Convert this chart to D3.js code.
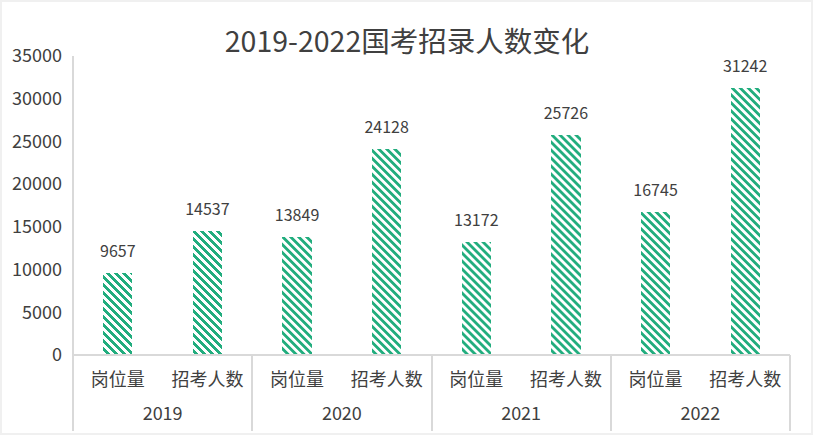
<!DOCTYPE html>
<html>
<head>
<meta charset="utf-8">
<script src="https://cdn.jsdelivr.net/npm/d3@7"></script>
<style>
  html, body { margin: 0; padding: 0; background: #f0f0f0; }
  svg { display: block; }
  text { font-family: "Noto Sans CJK SC", "Noto Sans", sans-serif; fill: #404040; }
</style>
</head>
<body>
<div id="chart"></div>
<script>
const years = ['2019', '2020', '2021', '2022'];
const categories = ['岗位量', '招考人数'];
const posts = [9657, 13849, 13172, 16745];
const applicants = [14537, 24128, 25726, 31242];
const yTicks = [0, 5000, 10000, 15000, 20000, 25000, 30000, 35000];

const width = 813;
const height = 435;
const plotLeft = 73, plotRight = 790, plotTop = 56, base = 355, plotBottom = 431;
const green = '#22ad7e';

const rows = years.map((y, i) => ({ year: y, values: [posts[i], applicants[i]] }));

const svg = d3.select('#chart')
  .append('svg')
  .attr('width', width)
  .attr('height', height)

svg.append('rect')
  .attr('x', 2).attr('y', 2)
  .attr('width', 809).attr('height', 431)
  .attr('fill', '#fff')

// wide downward diagonal hatch, 8px tile
const pat = svg.append('defs')
  .append('pattern')
  .attr('id', 'hatch')
  .attr('patternUnits', 'userSpaceOnUse')
  .attr('width', 8)
  .attr('height', 8)

d3.range(8).forEach(r => {
  d3.range(4).forEach(k => {
    pat.append('rect')
      .attr('x', (r + k) % 8).attr('y', r)
      .attr('width', 1).attr('height', 1)
      .attr('fill', green)
      .attr('shape-rendering', 'crispEdges')
  })
})

let x0 = d3.scaleBand()
  .domain(years)
  .range([plotLeft, plotRight])

let x1 = d3.scaleBand()
  .domain(categories)
  .range([0, x0.bandwidth()])

let yScale = d3.scaleLinear()
  .domain([0, 35000])
  .range([base, plotTop])

const barW = x1.bandwidth() * 0.325;

// title
svg.append('text')
  .attr('x', 407)
  .attr('y', 52)
  .attr('text-anchor', 'middle')
  .style('font-size', '28.5px')
  .text('2019-2022国考招录人数变化')

// y axis labels
let yAxis = d3.axisLeft(yScale)
  .tickValues(yTicks)
  .tickFormat(d3.format('d'))
  .tickSize(0)
  .tickPadding(11)

const gy = svg.append('g')
  .attr('transform', `translate(${plotLeft}, 0)`)
  .call(yAxis)
gy.select('.domain').remove()
gy.attr('font-family', null).attr('font-size', null)
gy.selectAll('text')
  .style('font-size', '18px')
  .attr('fill', '#404040')

// bars
const groups = svg.append('g')
  .selectAll('g')
  .data(rows)
  .enter()
  .append('g')
  .attr('transform', d => `translate(${x0(d.year)}, 0)`)

groups.selectAll('rect')
  .data(d => d.values.map((v, i) => ({ cat: categories[i], v })))
  .enter()
  .append('rect')
  .attr('x', d => x1(d.cat) + x1.bandwidth() / 2 - barW / 2)
  .attr('y', d => yScale(d.v))
  .attr('width', barW)
  .attr('height', d => base - yScale(d.v))
  .attr('fill', 'url(#hatch)')
  .attr('shape-rendering', 'crispEdges')

groups.selectAll('text.val')
  .data(d => d.values.map((v, i) => ({ cat: categories[i], v })))
  .enter()
  .append('text')
  .attr('class', 'val')
  .attr('x', d => x1(d.cat) + x1.bandwidth() / 2)
  .attr('y', d => yScale(d.v) - 16)
  .attr('text-anchor', 'middle')
  .style('font-size', '16px')
  .text(d => d.v)

// category labels
groups.selectAll('text.cat')
  .data(categories)
  .enter()
  .append('text')
  .attr('class', 'cat')
  .attr('x', d => x1(d) + x1.bandwidth() / 2)
  .attr('y', 386)
  .attr('text-anchor', 'middle')
  .style('font-size', '18px')
  .text(d => d)

groups.append('text')
  .attr('x', x0.bandwidth() / 2)
  .attr('y', 420)
  .attr('text-anchor', 'middle')
  .style('font-size', '18px')
  .text(d => d.year)

// axis lines
const lines = svg.append('g')
  .attr('stroke', '#d9d9d9')
  .attr('stroke-width', 2)
  .attr('shape-rendering', 'crispEdges')

lines.append('line')
  .attr('x1', plotLeft).attr('x2', plotRight)
  .attr('y1', base).attr('y2', base)

lines.append('line')
  .attr('x1', plotLeft).attr('x2', plotLeft)
  .attr('y1', plotTop).attr('y2', plotBottom)

lines.selectAll('line.sep')
  .data(years)
  .enter()
  .append('line')
  .attr('class', 'sep')
  .attr('x1', d => x0(d) + x0.bandwidth()).attr('x2', d => x0(d) + x0.bandwidth())
  .attr('y1', base).attr('y2', plotBottom)
</script>
</body>
</html>
